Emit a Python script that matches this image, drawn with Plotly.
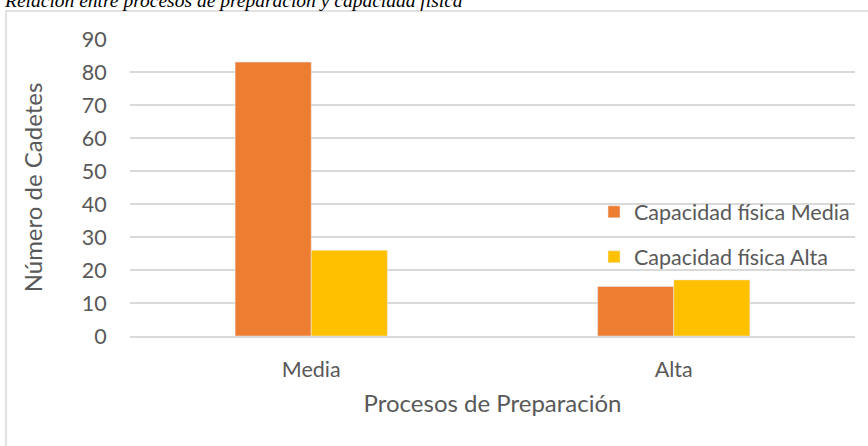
import plotly.graph_objects as go

categories = ["Media", "Alta"]
capacidad_media = [83, 15]
capacidad_alta = [26, 17]

TEXT_GRAY = "#595959"
GRID = "#d9d9d9"
FONT = "Lato, 'Open Sans', sans-serif"

fig = go.Figure()
fig.add_trace(go.Bar(
    x=categories, y=capacidad_media, name="Capacidad física Media",
    marker_color="#ED7D31", legendgroup="a",
))
fig.add_trace(go.Bar(
    x=categories, y=capacidad_alta, name="Capacidad física Alta",
    marker_color="#FFC000", legendgroup="b",
))

fig.update_layout(
    width=868, height=446,
    margin=dict(l=130, r=13, t=39, b=110),
    paper_bgcolor="white", plot_bgcolor="white",
    barmode="group", bargap=0.58, bargroupgap=0,
    font=dict(family=FONT, color=TEXT_GRAY, size=21),
    legend=dict(
        x=0.64, y=0.487, xanchor="left", yanchor="top",
        bgcolor="rgba(0,0,0,0)", font=dict(size=21.5, color=TEXT_GRAY),
        tracegroupgap=14,
    ),
)

fig.update_yaxes(
    range=[0, 90], dtick=10, showgrid=True, gridcolor=GRID, gridwidth=1.5,
    zeroline=False, showline=False,
    ticks="outside", ticklen=18, tickcolor="rgba(0,0,0,0)",
    tickfont=dict(size=21.5, color=TEXT_GRAY),
    title=dict(text="Número de Cadetes", font=dict(size=24, color=TEXT_GRAY), standoff=32),
)
fig.update_xaxes(
    showline=True, linecolor=GRID, linewidth=1.5,
    ticks="outside", ticklen=13, tickcolor="rgba(0,0,0,0)",
    tickfont=dict(size=21.5, color=TEXT_GRAY),
    title=dict(text="Procesos de Preparación", font=dict(size=24, color=TEXT_GRAY), standoff=15),
)

# chart frame
fig.add_shape(
    type="rect", xref="paper", yref="paper",
    x0=-124 / 725, x1=1.05, y0=-0.5, y1=1 + 28 / 297,
    line=dict(color=GRID, width=1.5), fillcolor="rgba(0,0,0,0)", layer="below",
)

# caption title, partly cut off at top of the image (as in the source)
fig.add_annotation(
    text="<i>Relación entre procesos de preparación y capacidad física</i>",
    xref="paper", yref="paper", x=-128 / 725, y=1 + 26 / 297,
    xanchor="left", yanchor="bottom", showarrow=False,
    font=dict(family="Liberation Serif, serif", size=19.5, color="black"),
)

fig.write_html(
    "out.html",
    config={"displayModeBar": False},
    post_script="document.body.style.margin='0';",
)
